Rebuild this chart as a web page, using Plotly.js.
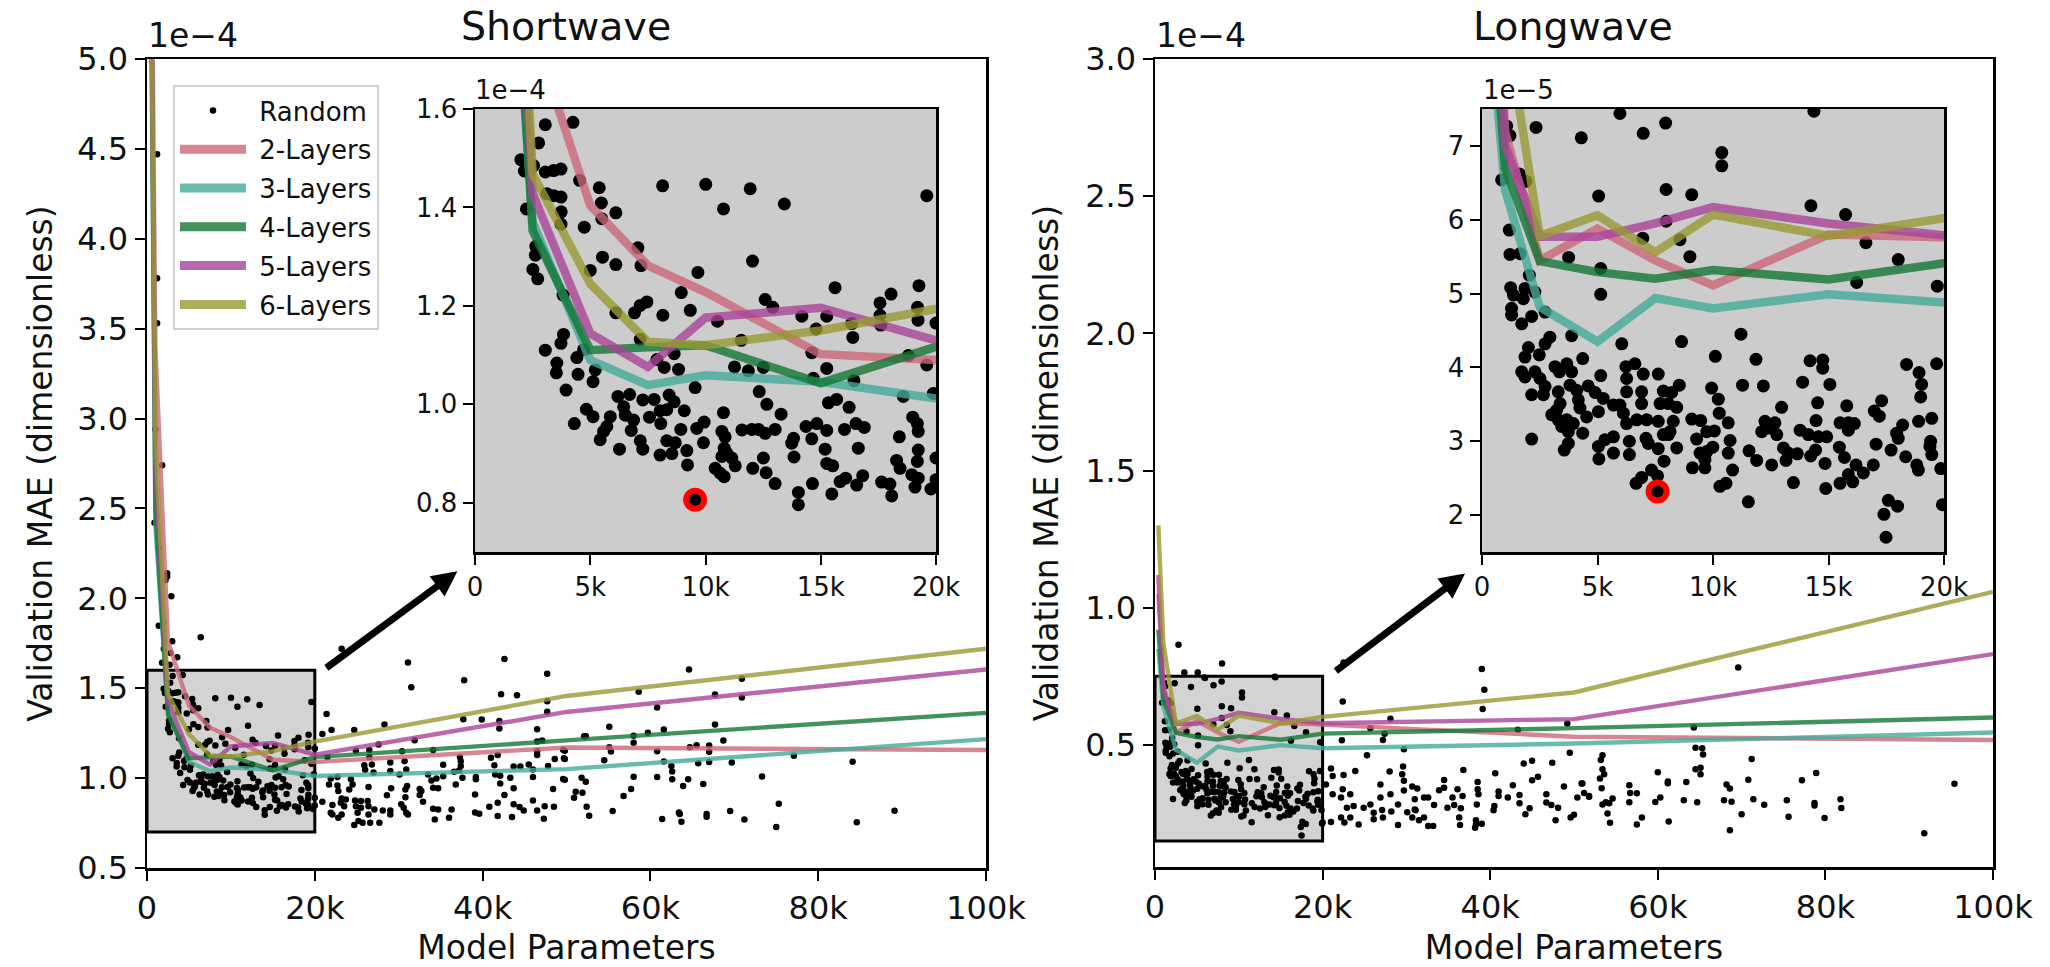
<!DOCTYPE html>
<html><head><meta charset="utf-8">
<script src="https://cdn.plot.ly/plotly-3.0.1.min.js"></script>
<style>html,body{margin:0;padding:0;background:#fff}#c{width:2050px;height:967px}</style></head>
<body><div id="c"></div>
<script>
const paramsK=[0.4,1,2.5,5,7.5,10,15,20,50,100];
const layerNames=['2-Layers','3-Layers','4-Layers','5-Layers','6-Layers'];
const layerColors=['#cc6677','#44aa99','#117733','#aa4499','#999933'];
const short2=[6.5,3.4,1.76,1.404,1.282,1.228,1.102,1.09,1.17,1.156];
const short3=[5.8,2.4,1.37,1.09,1.039,1.059,1.046,1.012,1.05,1.217];
const short4=[6,2.5,1.353,1.11,1.116,1.12,1.043,1.117,1.21,1.363];
const short5=[6.2,2.7,1.428,1.144,1.076,1.176,1.196,1.13,1.368,1.604];
const short6=[6,2.9,1.468,1.245,1.127,1.12,1.15,1.203,1.457,1.72];
const long2=[1.05,.72,.545,.588,.545,.511,.58,.574,.53,.518];
const long3=[.85,.64,.482,.435,.494,.48,.499,.488,.505,.545];
const long4=[.92,.67,.544,.529,.52,.532,.519,.541,.561,.60];
const long5=[1.12,.7,.577,.577,.595,.617,.595,.579,.594,.831];
const long6=[1.3,.87,.578,.606,.556,.607,.578,.602,.691,1.058];

// Shortwave random-search points: thousands of parameters, MAE in 1e-4
const shortX=[3.05,4.25,2.76,1.99,2.14,2.54,3.05,3.41,3.73,4.54,5.39,5.48,5.5,6.11,3.12,3.41,3.73,3.74,2.23,3.73,4.74,8.14,10.01,10.78,11.94,13.42,19.6,7.07,5.53,6.11,7.2,12.04,9.67,2.64,2.62,2.51,2.72,5,3.82,8.95,9.34,7.46,7.17,6.92,6.11,8.15,12.59,12.92,15.62,14.18,15.26,14.8,10.52,11.55,16.34,16.39,17.57,17.57,17.6,18.05,19.26,19.2,19.22,20,14.61,15.26,14.68,16.44,18.8,19.6,18.58,19.88,3.84,3.73,3.05,3.55,3.53,4.42,4.47,4.71,5.22,5.12,3.95,7.17,7.89,8.64,8.21,8.83,9.55,11.26,11.86,12.51,12.33,12.66,13.28,6.2,6.71,7.28,7.77,8.42,8.64,8.32,8.03,9.08,6.45,6.52,4.83,5.12,4.31,5.87,5.72,5.58,5.43,6.88,6.78,7.57,8.06,7.17,7.28,6.27,8.32,8.69,8.54,8.03,9.19,9.22,8.93,9.62,9.94,9.91,10.78,10.71,10.85,10.81,10.92,10.71,11.14,11.29,10.42,10.64,10.81,11.58,12.01,12.3,12.59,13.02,12.51,12.05,12.63,13.02,13.82,13.74,13.84,14.36,14.83,15.26,14.61,15.19,15.26,15.52,15.33,15.69,16.23,16.03,16.53,16.89,16.63,14.03,14.03,14.64,15.48,15.84,16.08,16.56,16.82,17.64,18,18.08,18.41,18.99,19.19,19.23,19.23,19.19,18.29,18.44,18.95,19.23,19.09,19.78,20,20,
2.4,2.2,2.9,1.4,2,6.4,3,2,2.8,3.6,1.8,2.7,1.2,1.2,1.2,1,1.8,.9,1.4,2.4,
23.2,31.1,31.5,37.8,42.6,42.2,44.1,47.7,47.7,47.7,37.7,39.9,42,42,46.5,46.5,47.1,46.5,46.5,49.8,48.6,49.8,28.3,31.9,34.1,27.6,24.7,22,21.4,20.9,21.5,24.9,26.5,26.5,30.4,30.7,29,26.8,25.9,26,27,29,30.1,30.9,33.5,35.3,37.3,37.4,37.4,37.2,36.6,41,41.8,41.4,41.5,42.1,43.3,43.7,44.5,45.5,46,46,47.8,49.8,39.2,39.2,37.6,35.3,34.5,33.9,36.8,34.1,34.7,42.1,43.7,48.4,39.1,42.6,24.3,24.5,24.1,22.7,22.8,21.7,21.9,22.7,26.4,29.1,28.6,31,30.8,30.8,32.5,32.7,32.5,32.9,23.2,23.7,23.1,20.9,22.1,23.5,21.9,22.1,23.2,22.8,24.8,25.5,26.3,24.9,25.5,26.4,27.1,28.1,29,29,26.4,25.1,25.2,24.7,25.7,26.6,27.7,30.3,30.6,30.9,31.1,34.1,34.7,34.3,36.3,36,39.1,39.6,40.8,41.8,41.8,43.5,43.7,44.4,44.9,46,46.5,47.4,47.3,48.5,
64.6,58.6,70.9,60.8,67.7,70.9,55.1,61.6,59.7,67.7,58,52.1,52.3,58,68.7,49.6,55.1,55.3,60.8,64.7,65.5,67,67,49.7,54.5,61.6,62.5,65.7,67,69.7,77.1,84.1,62.6,49.6,51.8,52.3,58,60.8,62.6,64.5,63.9,66.3,73.3,51.1,51.9,50.9,57.7,56.8,52.4,52.7,55.5,61.4,63.4,63.5,63.7,66.7,66.7,69.5,71.2,75.3,75,84.6,89.1];
const shortY=[1.568,1.573,1.531,1.497,1.474,1.485,1.472,1.475,1.478,1.455,1.44,1.409,1.377,1.389,1.428,1.424,1.421,1.391,1.397,1.366,1.36,1.444,1.447,1.397,1.438,1.407,1.424,1.318,1.299,1.284,1.282,1.291,1.268,1.321,1.303,1.274,1.255,1.272,1.222,1.227,1.191,1.208,1.201,1.186,1.186,1.181,1.213,1.197,1.237,1.179,1.179,1.153,1.169,1.13,1.164,1.136,1.206,1.181,1.161,1.224,1.241,1.197,1.171,1.165,1.105,1.073,1.053,1.048,1.099,1.08,1.016,1.022,1.142,1.124,1.11,1.084,1.064,1.095,1.061,1.111,1.07,1.046,1.029,1.132,1.091,1.103,1.075,1.071,1.034,1.076,1.068,1.075,1.026,1,.98,1.016,1.02,1.009,1.01,1.019,1.005,.989,.987,.987,.995,.978,.99,.975,.961,.975,.955,.945,.928,.968,.947,.974,.961,.926,.909,.909,.926,.922,.9,.897,.906,.877,.949,.951,.964,.922,.983,.945,.934,.911,.901,.894,.891,.875,.87,.86,.853,.948,.949,.949,.941,.949,.891,.87,.861,.839,.931,.921,.893,.955,.961,.947,.93,.909,.88,.875,1.003,1.01,.994,.949,.961,.953,.911,.821,.796,.839,.818,.843,.85,.836,.855,.842,.838,.814,.934,.974,.961,.945,.907,.884,.886,.87,.857,.85,.832,.828,.847,.891,
2.122,2.1,2.011,1.848,1.863,1.783,1.761,1.72,1.696,1.672,1.641,1.631,4.47,3.78,3.53,2.94,2.74,2.42,2.28,2.14,
1.72,1.643,1.506,1.544,1.663,1.467,1.461,1.58,1.428,1.369,1.328,1.326,1.317,1.276,1.272,1.204,1.209,1.15,1.128,1.152,1.106,1.106,1.298,1.211,1.156,1.187,1.267,1.267,1.357,1.246,1.117,1.152,1.156,1.117,1.15,1.094,1.087,1.076,1.072,1.046,1.031,1.039,1.02,1.048,1.02,1.074,1.117,1.094,1.067,1.043,1.035,1.113,1.128,1.072,1.02,1.013,1.002,1.065,1.065,1.076,1.048,1.006,1.067,.991,1.006,.993,1.002,1.011,.998,.987,.965,.946,.944,.97,.944,.939,.909,.906,.993,.965,.937,.959,.928,.965,.998,1.006,.95,.943,.904,.956,.937,.894,.939,.928,.906,.869,.887,.881,.863,.869,.85,.844,.807,.798,.798,.78,.876,.872,.872,.844,.835,.844,.826,.82,.82,.798,.798,.807,.761,.739,.752,.752,.752,.854,.835,.807,.798,.83,.826,.77,.826,.78,.809,.802,.841,.863,.789,.783,.854,.839,.82,.876,.82,.844,.774,.841,
1.604,1.48,1.552,1.393,1.465,1.448,1.285,1.27,1.252,1.298,1.235,1.233,1.233,1.196,1.209,1.158,1.172,1.148,1.15,1.172,1.183,1.182,1.146,1.111,1.1,1.093,1.067,1.083,1.089,1.087,1.124,1.091,1.037,.995,1.002,.98,1.008,1.006,.993,.993,.956,.967,1.009,.924,.919,.891,.939,.9,.841,.791,.817,.772,.809,.8,.757,.8,.785,.817,.77,.858,.728,.754,.819];
const shortBestX=[9.55];
const shortBestY=[.806];

// Longwave points below 20k, MAE in 1e-5
const longInX=[5.97,7.95,6.98,4.3,2.34,14.37,1.07,1.21,10.38,10.38,1.62,1.9,.85,7.97,9.08,5.05,14.24,15.74,7.97,1.18,6.96,8.57,16.62,1.21,1.65,3.75,9,5.14,18.02,16.22,19.71,2.05,5.14,1.24,1.86,1.36,1.79,2.29,1.28,1.28,2.73,2.15,1.72,2.94,2.73,3.88,6.05,8.64,11.21,10.1,11.86,2.01,1.86,2.48,4.36,3.67,3.16,3.35,3.88,1.72,1.86,2.29,2.51,6.62,6.23,6.26,5.14,6.98,7.63,14.2,14.75,14.75,13.88,15.06,11.28,12.18,9.94,8.54,18.38,19.68,18.92,19.03,18.99,2.15,2.73,2.66,3.3,3.81,4.6,4.1,4.9,4.17,5.25,4.24,4.53,5.04,5.69,5.97,3.38,3.23,3.02,3.3,3.67,3.45,3.95,3.74,4.36,3.74,3.56,2.15,6.26,6.91,6.91,7.85,8.21,7.71,8.07,8.43,10.23,10.27,10.66,12.97,14.53,15.79,17.3,16.98,17.2,6.12,6.26,6.7,7.13,7.63,8.28,8.14,7.85,9.08,9.47,10.06,9.73,9.29,10.74,10.66,9.99,9.73,9.44,9.65,9.65,9.11,10.85,10.3,10.56,11.53,12.25,12.68,12.11,12.4,12.76,11.56,11.89,12.54,13.05,13.26,13.65,13.16,13.48,13.77,14.13,14.56,14.92,14.46,14.44,14.23,14.85,15.47,15.69,15.5,15.86,16.12,15.86,14.88,16.19,16.51,15.86,16.05,15.5,16.94,17.06,17.71,17.95,18.21,18.02,18.34,18.82,18.89,18.9,19.47,19.42,19.39,19.47,19.86,17.59,17.99,17.4,17.49,19.93,5.04,5.32,5.69,5.69,5.06,6.38,6.38,7.1,7.2,7.63,8.07,8.43,7.88,7.34,7.6,6.91,6.67];
const longInY=[7.44,7.31,7.17,7.11,7.25,7.47,7.27,7.14,6.91,6.73,6.62,6.52,6.54,6.41,6.34,6.32,6.19,6.07,5.98,5.86,5.75,5.73,5.69,5.53,5.54,5.49,5.5,5.34,5.46,5.15,5.1,5.25,4.99,5.08,5.07,4.98,4.93,5.02,4.8,4.71,4.75,4.69,4.59,4.41,4.32,4.43,4.32,4.35,4.45,4.15,4.11,4.27,4.14,4.17,4.12,4.05,4.01,3.94,3.94,3.94,3.87,3.94,3.85,4.05,4.01,3.85,3.89,3.91,3.91,4.09,4.1,3.99,3.8,3.77,3.76,3.75,3.72,3.76,4.04,4.05,3.93,3.77,3.6,3.63,3.74,3.63,3.67,3.76,3.75,3.69,3.66,3.56,3.58,3.45,3.33,3.4,3.49,3.49,3.51,3.42,3.36,3.29,3.29,3.2,3.24,3.13,3.11,2.97,2.88,3.03,3.67,3.67,3.51,3.68,3.66,3.51,3.51,3.46,3.57,3.38,3.25,3.46,3.52,3.48,3.55,3.41,3.34,3.38,3.24,3.29,3.29,3.27,3.27,3.13,3.09,3.3,3.28,3.14,3.13,3.03,3.01,2.84,2.92,2.86,2.84,2.75,2.64,2.64,2.61,2.39,2.43,2.18,3.27,3.25,3.13,3.18,3.09,2.87,2.74,2.68,2.91,2.84,2.83,2.74,2.44,3.15,3.09,3.06,3.06,3.28,2.88,2.8,2.7,2.92,2.78,3.25,3.25,3.24,3.15,2.36,2.68,2.57,2.55,2.45,2.43,2.68,2.96,2.88,3.11,3.22,3.04,2.79,2.68,2.61,3.27,3.31,3,2.93,2.82,2.63,2.2,2.12,2.01,1.7,2.14,2.93,3.02,3.06,2.84,2.76,3,2.82,3.04,2.97,2.9,3.09,2.91,2.73,2.61,2.53,2.51,2.43];
// Longwave points outside the inset, MAE in 1e-4
const longOutX=[2.8,8,3.5,5.1,5.9,14.3,22.5,39,39.3,39.1,22.4,28.1,49.2,25.7,27.4,27.2,22.3,43.3,29.7,25.3,49.5,45,44,47.4,29.6,21,23.9,22.5,21.2,28,36.8,40.6,34.5,45.7,45,26.9,29.5,29.7,29.7,30.7,31.3,33.9,34.5,38.5,38.5,38.6,36.1,36.7,42.7,41,41,42.1,43.5,43.5,46.7,46.7,48.8,51,50.4,51.2,51.8,47.3,48.1,44.7,44.2,40.5,40.4,38.4,38.3,38.3,38.2,39,36.5,36.3,36.4,35.5,34.9,35.7,33.3,32.1,32.6,31,31,29,30.1,30.7,31.1,31.5,32.1,32.6,33.2,29,28.2,27.2,27.1,26.1,26.1,24.3,23.3,22.6,22.2,21,20,22.9,23.7,24.9,25.7,26.9,28.1,23.3,22.4,21.2,20.4,22.2,47.8,49.6,50,
95.4,91.8,69.6,64.3,64.5,65.3,65.4,71.2,64.5,65.1,65.1,53.4,53.2,53.4,53.6,53.1,53.3,60,61.2,61.2,63.4,70.8,68.2,68.6,78.9,77.2,56.6,56.7,57.5,56.6,50.9,51.8,54.6,53.8,54.2,53.4,54,54.3,57.5,58.1,59.7,60.3,61.3,63.1,64.7,67.9,68.8,71.4,72.7,70,68.6,75.4,75.6,78.7,78.7,79.9,81.8,81.9];
const longOutY=[.865,.797,.764,.764,.746,.748,.8,.777,.701,.631,.658,.595,.578,.561,.541,.518,.517,.555,.484,.462,.471,.442,.432,.435,.421,.414,.405,.39,.387,.403,.409,.397,.372,.384,.371,.356,.393,.369,.334,.348,.341,.335,.344,.365,.338,.32,.338,.314,.353,.33,.314,.308,.317,.287,.32,.29,.348,.359,.308,.325,.314,.281,.271,.269,.247,.277,.262,.283,.225,.21,.198,.213,.269,.235,.208,.308,.271,.281,.281,.308,.308,.302,.265,.283,.255,.235,.262,.225,.235,.204,.204,.208,.257,.235,.263,.229,.253,.21,.235,.217,.235,.219,.217,.271,.277,.271,.283,.308,.32,.32,.338,.32,.356,.308,.225,.235,.245,
.358,.178,.782,.563,.49,.488,.465,.449,.411,.417,.393,.462,.445,.411,.393,.378,.342,.40,.367,.36,.365,.373,.356,.341,.398,.371,.353,.325,.324,.291,.359,.311,.305,.291,.287,.283,.25,.216,.21,.235,.292,.308,.221,.298,.291,.298,.293,.302,.282,.247,.189,.298,.238,.288,.279,.234,.302,.27];
const longBestX=[7.6];
const longBestY=[2.32];

const mainXTicks=[0,20,40,60,80,100], mainXText=['0','20k','40k','60k','80k','100k'];
const insetXTicks=[0,5,10,15,20], insetXText=['0','5k','10k','15k','20k'];
const shortYTicks=[.5,1,1.5,2,2.5,3,3.5,4,4.5,5];
const longYTicks=[.5,1,1.5,2,2.5,3];
const shortInsetTicks=[.8,1,1.2,1.4,1.6];
const longInsetTicks=[2,3,4,5,6,7];

const W=2050,H=967,FONT='DejaVu Sans';
const dx=(a,b)=>[a/W,b/W], dy=(top,bot)=>[1-bot/H,1-top/H];
function axis(dom,range,vals,text,size,anchor,extra){
  return Object.assign({domain:dom,range:range,tickmode:'array',tickvals:vals,ticktext:text,
    ticks:'outside',ticklen:10,tickwidth:2,tickcolor:'#000',showline:true,linecolor:'#000',linewidth:2.5,mirror:true,
    showgrid:false,zeroline:false,anchor:anchor,tickfont:{family:FONT,size:size,color:'#111'}},extra||{});
}
const fmt1=a=>a.map(v=>v.toFixed(1));
const fmt0=a=>a.map(v=>String(v));
const pts=(x,y,s,xa,ya,name,leg)=>({type:'scatter',mode:'markers',x:x,y:y,xaxis:xa,yaxis:ya,name:name,showlegend:!!leg,
  legendgroup:leg?'g0':undefined,marker:{color:'#000',size:s},hoverinfo:'skip'});
const line=(y,i,w,xa,ya)=>({type:'scatter',mode:'lines',x:paramsK,y:y,xaxis:xa,yaxis:ya,showlegend:false,
  line:{color:layerColors[i],width:w},opacity:.8,hoverinfo:'skip'});
const best=(x,y,xa,ya)=>({type:'scatter',mode:'markers',x:x,y:y,xaxis:xa,yaxis:ya,showlegend:false,
  marker:{color:'#000',size:18,line:{color:'#f00',width:6}},hoverinfo:'skip'});

const shortSeries=[short2,short3,short4,short5,short6];
const longSeries=[long2,long3,long4,long5,long6];
const longAllX=longInX.concat(longOutX);
const longAllY=longInY.map(v=>v/10).concat(longOutY);
const MAINW=4.4,INSETW=8.5;
const traces=[];
traces.push(pts(shortX,shortY,6.5,'x','y','\u00a0Random',true));
shortSeries.forEach((s,i)=>traces.push(line(s,i,MAINW,'x','y')));
layerNames.forEach((n,i)=>traces.push({type:'scatter',mode:'lines',x:[null],y:[null],xaxis:'x',yaxis:'y',name:'\u00a0'+n,
  legendgroup:'g'+(i+1),line:{color:layerColors[i],width:9},opacity:.8,hoverinfo:'skip'}));
traces.push(pts(longAllX,longAllY,6.5,'x2','y2','Random'));
longSeries.forEach((s,i)=>traces.push(line(s,i,MAINW,'x2','y2')));
traces.push(pts(shortX,shortY,13,'x3','y3','Random'));
shortSeries.forEach((s,i)=>traces.push(line(s,i,INSETW,'x3','y3')));
traces.push(best(shortBestX,shortBestY,'x3','y3'));
traces.push(pts(longInX,longInY,13,'x4','y4','Random'));
longSeries.forEach((s,i)=>traces.push(line(s.map(v=>v*10),i,INSETW,'x4','y4')));
traces.push(best(longBestX,longBestY,'x4','y4'));

const ann=(text,x,y,size,xa,ya)=>({text:text,xref:'paper',yref:'paper',x:x/W,y:1-y/H,xanchor:xa||'left',yanchor:ya||'bottom',
  showarrow:false,font:{family:FONT,size:size,color:'#111'}});
const arrow=(xr,yr,x,y,ax,ay)=>({xref:xr,yref:yr,axref:xr,ayref:yr,x:x,y:y,ax:ax,ay:ay,text:'',showarrow:true,
  arrowhead:2,arrowsize:.72,arrowwidth:7,arrowcolor:'#000'});
const rect=(xr,yr,x0,x1,y0,y1,fill,bw)=>({type:'rect',xref:xr,yref:yr,x0:x0,x1:x1,y0:y0,y1:y1,layer:'below',
  fillcolor:fill,line:{color:'#000',width:bw}});
const title=(s,st)=>({text:s,font:{family:FONT,size:33,color:'#111'},standoff:st});

const layout={width:W,height:H,margin:{l:0,r:0,t:0,b:0,pad:0},paper_bgcolor:'#fff',plot_bgcolor:'rgba(0,0,0,0)',
  showlegend:true,
  legend:{x:173/W,y:1-85/H,xanchor:'left',yanchor:'top',bgcolor:'#fff',bordercolor:'#d0d0d0',borderwidth:2,
    font:{family:FONT,size:26,color:'#111'},itemwidth:66,traceorder:'grouped',tracegroupgap:2,entrywidth:145,entrywidthmode:'pixels'},
  xaxis:axis(dx(147,986),[0,100],mainXTicks,mainXText,32,'y',{title:title('Model Parameters',16)}),
  yaxis:axis(dy(59,868),[.5,5],shortYTicks,fmt1(shortYTicks),32,'x',{title:title('Validation MAE (dimensionless)',15)}),
  xaxis2:axis(dx(1155,1993),[0,100],mainXTicks,mainXText,32,'y2',{title:title('Model Parameters',16)}),
  yaxis2:axis(dy(59,867),[.055,3],longYTicks,fmt1(longYTicks),32,'x2',{title:title('Validation MAE (dimensionless)',17)}),
  xaxis3:axis(dx(475,936),[0,20],insetXTicks,insetXText,26,'y3'),
  yaxis3:axis(dy(109,552),[.7,1.6],shortInsetTicks,fmt1(shortInsetTicks),26,'x3'),
  xaxis4:axis(dx(1482,1944),[0,20],insetXTicks,insetXText,26,'y4'),
  yaxis4:axis(dy(109,552),[1.5,7.5],longInsetTicks,fmt0(longInsetTicks),26,'x4'),
  shapes:[rect('x','y',0,20,.7,1.6,'#d3d3d3',3),rect('x2','y2',0,20,.15,.75,'#d3d3d3',3),
    rect('x3','y3',0,20,.7,1.6,'#cccccc',0),rect('x4','y4',0,20,1.5,7.5,'#cccccc',0)],
  annotations:[ann('Shortwave',566,51,39.5,'center'),ann('Longwave',1573,51,39.5,'center'),
    ann('1e\u22124',146,57,33),ann('1e\u22124',1154,57,33),ann('1e\u22124',473,107,26),ann('1e\u22125',1481,107,26),
    arrow('x','y',37,2.15,21.2,1.607),arrow('x2','y2',37,1.125,21.4,.765)]
};
Plotly.newPlot('c',traces,layout,{displayModeBar:false,staticPlot:true});
</script></body></html>
